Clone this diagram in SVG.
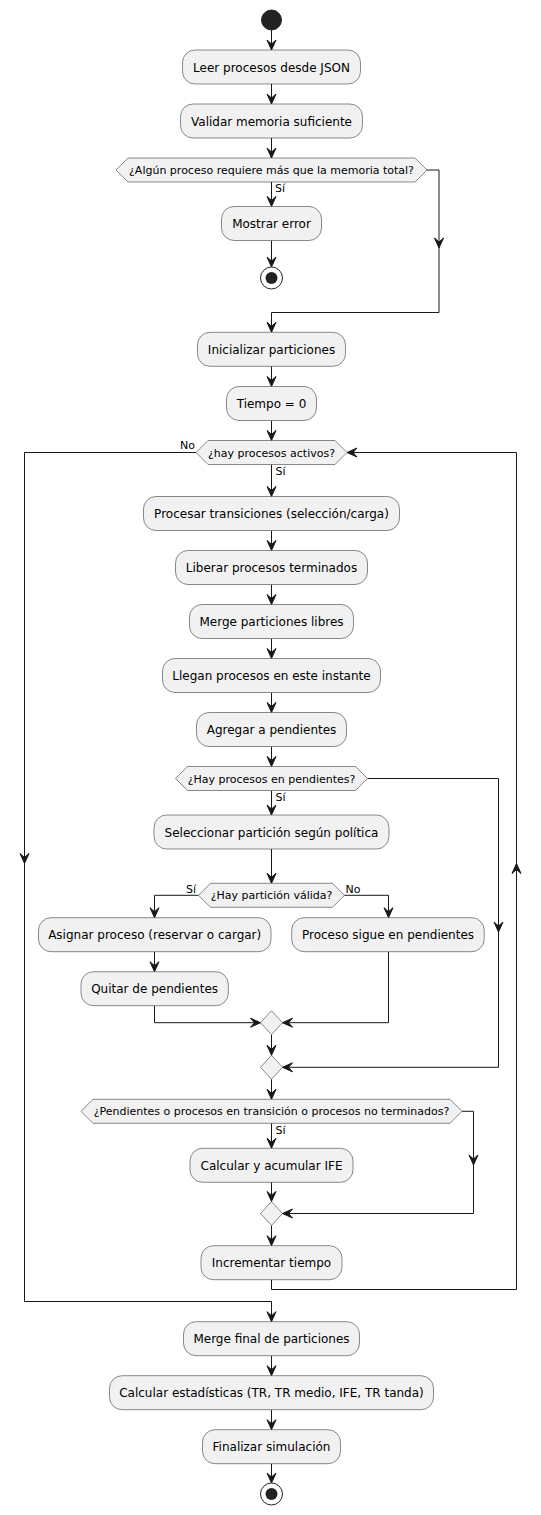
<svg xmlns="http://www.w3.org/2000/svg" xmlns:xlink="http://www.w3.org/1999/xlink" width="541" height="1515" viewBox="0 0 541 1515">
<style>
.box{fill:#F1F1F1;stroke:#181818;stroke-width:0.5}
.dia{fill:#F1F1F1;stroke:#181818;stroke-width:0.5}
.t{font-family:"DejaVu Sans","Liberation Sans",sans-serif;font-size:12px;fill:#000;text-anchor:middle}
.td{font-family:"DejaVu Sans","Liberation Sans",sans-serif;font-size:11px;fill:#000;text-anchor:middle}
.lb{font-family:"DejaVu Sans","Liberation Sans",sans-serif;font-size:11px;fill:#000}
.e{fill:none;stroke:#181818;stroke-width:1}
.ah{fill:#181818;stroke:#181818;stroke-width:1}
</style>
<defs>
<path id="ah" d="M0,0 L-4.5,-10 L0,-6 L4.5,-10 Z"/>
</defs>
<rect width="541" height="1515" fill="#FFFFFF"/>

<g id="connectors">
<path class="e" d="M271.5,30 V50 M271.5,84 V104 M271.5,138 V158 M271.5,182 V206.5 M271.5,240.5 V267"/>
<path class="e" d="M427,170 H439 V312.5 H271.5 V332.3"/>
<path class="e" d="M271.5,366.3 V386.5 M271.5,420.5 V440.5 M271.5,464.5 V496.5 M271.5,530.5 V550.5 M271.5,584.5 V604.5 M271.5,638.5 V658.5 M271.5,692.5 V712.5 M271.5,746.5 V766.5 M271.5,790.5 V815 M271.5,849 V883.3"/>
<path class="e" d="M198.5,895.3 H154.5 V917.7 M344.5,895.3 H388.5 V917.7 M154.5,951.7 V971.7"/>
<path class="e" d="M154.5,1005.7 V1022.7 H260.5 M388.5,951.7 V1022.7 H282.5 M271.5,1034.7 V1055.3"/>
<path class="e" d="M367.5,778.5 H498.5 V1067.3 H282.5"/>
<path class="e" d="M271.5,1079.3 V1099.3 M271.5,1123.3 V1148.3 M271.5,1182.3 V1201.5 M271.5,1225.5 V1245.7"/>
<path class="e" d="M462,1111.3 H473.5 V1213.5 H282.5"/>
<path class="e" d="M271.5,1279.7 V1289.5 H516.5 V452.5 H347"/>
<path class="e" d="M196,452.5 H24.5 V1301.5 H271.5 V1321.7"/>
<path class="e" d="M271.5,1355.7 V1375.7 M271.5,1409.7 V1429.7 M271.5,1463.7 V1483"/>
<g class="ah">
<use xlink:href="#ah" transform="translate(271.5,50)"/>
<use xlink:href="#ah" transform="translate(271.5,104)"/>
<use xlink:href="#ah" transform="translate(271.5,158)"/>
<use xlink:href="#ah" transform="translate(271.5,206.5)"/>
<use xlink:href="#ah" transform="translate(271.5,267)"/>
<use xlink:href="#ah" transform="translate(439,248)"/>
<use xlink:href="#ah" transform="translate(271.5,332.3)"/>
<use xlink:href="#ah" transform="translate(271.5,386.5)"/>
<use xlink:href="#ah" transform="translate(271.5,440.5)"/>
<use xlink:href="#ah" transform="translate(271.5,496.5)"/>
<use xlink:href="#ah" transform="translate(271.5,550.5)"/>
<use xlink:href="#ah" transform="translate(271.5,604.5)"/>
<use xlink:href="#ah" transform="translate(271.5,658.5)"/>
<use xlink:href="#ah" transform="translate(271.5,712.5)"/>
<use xlink:href="#ah" transform="translate(271.5,766.5)"/>
<use xlink:href="#ah" transform="translate(271.5,815)"/>
<use xlink:href="#ah" transform="translate(271.5,883.3)"/>
<use xlink:href="#ah" transform="translate(154.5,917.7)"/>
<use xlink:href="#ah" transform="translate(388.5,917.7)"/>
<use xlink:href="#ah" transform="translate(154.5,971.7)"/>
<use xlink:href="#ah" transform="translate(260.5,1022.7) rotate(-90)"/>
<use xlink:href="#ah" transform="translate(282.5,1022.7) rotate(90)"/>
<use xlink:href="#ah" transform="translate(271.5,1055.3)"/>
<use xlink:href="#ah" transform="translate(498.5,932)"/>
<use xlink:href="#ah" transform="translate(282.5,1067.3) rotate(90)"/>
<use xlink:href="#ah" transform="translate(271.5,1099.3)"/>
<use xlink:href="#ah" transform="translate(271.5,1148.3)"/>
<use xlink:href="#ah" transform="translate(473.5,1165)"/>
<use xlink:href="#ah" transform="translate(282.5,1213.5) rotate(90)"/>
<use xlink:href="#ah" transform="translate(271.5,1201.5)"/>
<use xlink:href="#ah" transform="translate(271.5,1245.7)"/>
<use xlink:href="#ah" transform="translate(516.5,863.5) rotate(180)"/>
<use xlink:href="#ah" transform="translate(347,452.5) rotate(90)"/>
<use xlink:href="#ah" transform="translate(24.5,863.5)"/>
<use xlink:href="#ah" transform="translate(271.5,1321.7)"/>
<use xlink:href="#ah" transform="translate(271.5,1375.7)"/>
<use xlink:href="#ah" transform="translate(271.5,1429.7)"/>
<use xlink:href="#ah" transform="translate(271.5,1483)"/>
</g>
<text class="lb" x="275" y="192">Sí</text>
<text class="lb" x="195" y="449" text-anchor="end">No</text>
<text class="lb" x="275.5" y="475">Sí</text>
<text class="lb" x="275.5" y="801">Sí</text>
<text class="lb" x="196" y="892.7" text-anchor="end">Sí</text>
<text class="lb" x="345.5" y="892.7">No</text>
<text class="lb" x="275.5" y="1133.5">Sí</text>
</g>

<g id="start"><circle cx="271.5" cy="20" r="10" fill="#222222" stroke="#222222"/></g>

<g id="leer"><rect class="box" x="182.5" y="50" width="178" height="34" rx="12.5"/><text class="t" x="271.5" y="71.5">Leer procesos desde JSON</text></g>
<g id="validar"><rect class="box" x="180.5" y="104" width="182" height="34" rx="12.5"/><text class="t" x="271.5" y="125.5">Validar memoria suficiente</text></g>
<g id="d1"><polygon class="dia" points="116,170 128,158 415,158 427,170 415,182 128,182"/><text class="td" x="271.5" y="174">¿Algún proceso requiere más que la memoria total?</text></g>
<g id="mostrar"><rect class="box" x="221.5" y="206.5" width="100" height="34" rx="12.5"/><text class="t" x="271.5" y="228">Mostrar error</text></g>
<g id="stop1"><circle cx="271.5" cy="278" r="11" fill="none" stroke="#222222" stroke-width="1"/><circle cx="271.5" cy="278" r="6" fill="#222222"/></g>

<g id="inicializar"><rect class="box" x="197.5" y="332.3" width="148" height="34" rx="12.5"/><text class="t" x="271.5" y="353.8">Inicializar particiones</text></g>
<g id="tiempo"><rect class="box" x="226.5" y="386.5" width="90" height="34" rx="12.5"/><text class="t" x="271.5" y="408">Tiempo = 0</text></g>
<g id="dloop"><polygon class="dia" points="196,452.5 208,440.5 335,440.5 347,452.5 335,464.5 208,464.5"/><text class="td" x="271.5" y="456.5">¿hay procesos activos?</text></g>
<g id="procesar"><rect class="box" x="143.5" y="496.5" width="256" height="34" rx="12.5"/><text class="t" x="271.5" y="518">Procesar transiciones (selección/carga)</text></g>
<g id="liberar"><rect class="box" x="175.5" y="550.5" width="192" height="34" rx="12.5"/><text class="t" x="271.5" y="572">Liberar procesos terminados</text></g>
<g id="merge"><rect class="box" x="189.5" y="604.5" width="164" height="34" rx="12.5"/><text class="t" x="271.5" y="626">Merge particiones libres</text></g>
<g id="llegan"><rect class="box" x="162.5" y="658.5" width="218" height="34" rx="12.5"/><text class="t" x="271.5" y="680">Llegan procesos en este instante</text></g>
<g id="agregar"><rect class="box" x="196.5" y="712.5" width="150" height="34" rx="12.5"/><text class="t" x="271.5" y="734">Agregar a pendientes</text></g>
<g id="d2"><polygon class="dia" points="175.5,778.5 187.5,766.5 355.5,766.5 367.5,778.5 355.5,790.5 187.5,790.5"/><text class="td" x="271.5" y="782.5">¿Hay procesos en pendientes?</text></g>
<g id="seleccionar"><rect class="box" x="154" y="815" width="235" height="34" rx="12.5"/><text class="t" x="271.5" y="836.5">Seleccionar partición según política</text></g>
<g id="d3"><polygon class="dia" points="198.5,895.3 210.5,883.3 332.5,883.3 344.5,895.3 332.5,907.3 210.5,907.3"/><text class="td" x="271.5" y="899.3">¿Hay partición válida?</text></g>
<g id="asignar"><rect class="box" x="38.5" y="917.7" width="232.5" height="34" rx="12.5"/><text class="t" x="154.7" y="939.2">Asignar proceso (reservar o cargar)</text></g>
<g id="sigue"><rect class="box" x="291.7" y="917.7" width="192.5" height="34" rx="12.5"/><text class="t" x="388" y="939.2">Proceso sigue en pendientes</text></g>
<g id="quitar"><rect class="box" x="81" y="971.7" width="147.3" height="34" rx="12.5"/><text class="t" x="154.6" y="993.2">Quitar de pendientes</text></g>
<g id="m1"><polygon class="dia" points="271.5,1010.7 282.5,1022.7 271.5,1034.7 260.5,1022.7"/></g>
<g id="m2"><polygon class="dia" points="271.5,1055.3 282.5,1067.3 271.5,1079.3 260.5,1067.3"/></g>
<g id="d4"><polygon class="dia" points="81,1111.3 93,1099.3 450,1099.3 462,1111.3 450,1123.3 93,1123.3"/><text class="td" x="271.5" y="1115.3">¿Pendientes o procesos en transición o procesos no terminados?</text></g>
<g id="calcife"><rect class="box" x="190" y="1148.3" width="163" height="34" rx="12.5"/><text class="t" x="271.5" y="1169.8">Calcular y acumular IFE</text></g>
<g id="m3"><polygon class="dia" points="271.5,1201.5 282.5,1213.5 271.5,1225.5 260.5,1213.5"/></g>
<g id="incrementar"><rect class="box" x="201" y="1245.7" width="141" height="34" rx="12.5"/><text class="t" x="271.5" y="1267.2">Incrementar tiempo</text></g>
<g id="mergefinal"><rect class="box" x="183.5" y="1321.7" width="176" height="34" rx="12.5"/><text class="t" x="271.5" y="1343.2">Merge final de particiones</text></g>
<g id="estad"><rect class="box" x="109.5" y="1375.7" width="324" height="34" rx="12.5"/><text class="t" x="271.5" y="1397.2">Calcular estadísticas (TR, TR medio, IFE, TR tanda)</text></g>
<g id="finalizar"><rect class="box" x="202.5" y="1429.7" width="138" height="34" rx="12.5"/><text class="t" x="271.5" y="1451.2">Finalizar simulación</text></g>
<g id="stop2"><circle cx="271.5" cy="1494" r="11" fill="none" stroke="#222222" stroke-width="1"/><circle cx="271.5" cy="1494" r="6" fill="#222222"/></g>
</svg>
